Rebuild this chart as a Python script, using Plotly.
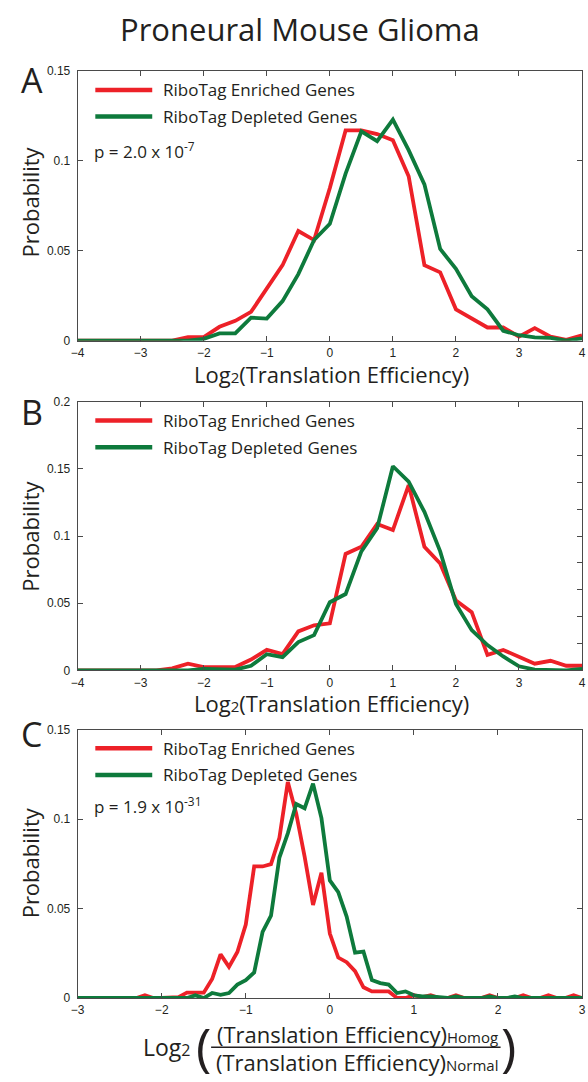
import plotly.graph_objects as go

# ---------------- data ----------------
xA = [-4.0, -3.75, -3.5, -3.25, -3.0, -2.75, -2.5, -2.25, -2.0, -1.75, -1.5, -1.25, -1.0, -0.75,
      -0.5, -0.25, 0.0, 0.25, 0.5, 0.75, 1.0, 1.25, 1.5, 1.75, 2.0, 2.25, 2.5, 2.75, 3.0, 3.25,
      3.5, 3.75, 4.0]
A_enriched = [0, 0, 0, 0, 0, 0, 0, 0.002, 0.002, 0.0077, 0.011, 0.016, 0.029, 0.042, 0.061, 0.056,
              0.085, 0.117, 0.117, 0.115, 0.1116, 0.0915, 0.042, 0.038, 0.0174, 0.0123, 0.0073,
              0.0073, 0.0022, 0.007, 0.0022, 0.0004, 0.003]
A_depleted = [0, 0, 0, 0, 0, 0, 0, 0, 0.001, 0.004, 0.004, 0.0128, 0.0123, 0.022, 0.037, 0.056,
              0.065, 0.093, 0.1165, 0.111, 0.123, 0.106, 0.087, 0.051, 0.040, 0.0247, 0.0174,
              0.0055, 0.003, 0.0018, 0.0015, 0.0, 0.0013]

xB = xA
B_enriched = [0, 0, 0, 0, 0, 0, 0.0015, 0.005, 0.0024, 0.0024, 0.0024, 0.008, 0.0153, 0.012, 0.029,
              0.0335, 0.035, 0.0867, 0.092, 0.109, 0.1045, 0.138, 0.092, 0.0796, 0.052, 0.0433,
              0.0115, 0.0152, 0.0103, 0.0049, 0.0071, 0.0034, 0.0034]
B_depleted = [0, 0, 0, 0, 0, 0, 0, 0, 0.001, 0.001, 0.0005, 0.0034, 0.012, 0.0098, 0.021, 0.0262,
              0.0507, 0.0568, 0.0886, 0.1058, 0.152, 0.1405, 0.118, 0.0886, 0.0494, 0.0299, 0.0188,
              0.0103, 0.003, 0.0005, 0.0, 0.0, 0.001]

xC = [-3.0, -2.9, -2.8, -2.7, -2.6, -2.5, -2.4, -2.3, -2.2, -2.1, -2.0, -1.9, -1.8, -1.7, -1.6,
      -1.5, -1.4, -1.3, -1.2, -1.1, -1.0, -0.9, -0.8, -0.7, -0.6, -0.5, -0.4, -0.3, -0.2, -0.1,
      0.0, 0.1, 0.2, 0.3, 0.4, 0.5, 0.6, 0.7, 0.8, 0.9, 1.0, 1.1, 1.2, 1.3, 1.4, 1.5, 1.6, 1.7,
      1.8, 1.9, 2.0, 2.1, 2.2, 2.3, 2.4, 2.5, 2.6, 2.7, 2.8, 2.9, 3.0]
C_enriched = [0, 0, 0, 0, 0, 0, 0, 0, 0.0015, 0, 0, 0, 0.0005, 0.003, 0.003, 0.003, 0.0106, 0.0244,
              0.0174, 0.0257, 0.041, 0.0735, 0.0735, 0.0748, 0.0895, 0.1207, 0.103, 0.079, 0.052,
              0.070, 0.036, 0.0226, 0.020, 0.015, 0.006, 0.0037, 0.0037, 0.0037, 0, 0, 0.0015,
              0.0005, 0.0015, 0, 0, 0.0015, 0, 0, 0, 0.0015, 0, 0, 0, 0.0015, 0, 0, 0.0015, 0, 0,
              0.0015, 0]
C_depleted = [0, 0, 0, 0, 0, 0, 0, 0, 0, 0, 0, 0.0005, 0, 0, 0.0015, 0, 0.0028, 0.0018, 0.0028,
              0.0075, 0.010, 0.0143, 0.0369, 0.046, 0.0785, 0.092, 0.1084, 0.106, 0.1198, 0.1005,
              0.0657, 0.0592, 0.0455, 0.0253, 0.0259, 0.010, 0.0083, 0.0075, 0.0028, 0.0037, 0.0015,
              0.0009, 0.0009, 0.0005, 0, 0.0009, 0, 0, 0, 0.0009, 0, 0, 0.0009, 0, 0, 0, 0.0005, 0,
              0, 0, 0]

series_names = ["RiboTag Enriched Genes", "RiboTag Depleted Genes"]
p_texts = ["p = 2.0 x 10<sup>-7</sup>", None, "p = 1.9 x 10<sup>-31</sup>"]

xticksAB = [-4, -3, -2, -1, 0, 1, 2, 3, 4]
xticksC = [-3, -2, -1, 0, 1, 2, 3]
yticksA = [0, 0.05, 0.1, 0.15]
yticksB = [0, 0.05, 0.1, 0.15, 0.2]
yticksC = [0, 0.05, 0.1, 0.15]

# ---------------- style ----------------
W, H = 588, 1082
RED = "#ED2128"
GREEN = "#0E7A3C"
AX = "#4a4a4a"
TXT = "#231F20"
SANS = "Open Sans, Noto Sans, sans-serif"
TICKF = dict(family="Liberation Sans, Arial, sans-serif", size=12, color=TXT)

def px_x(v):
    return v / W

def px_y(v):
    return 1 - v / H

x_dom = [px_x(72), px_x(586)]
panels = [
    dict(top=65, bot=338, xr=[-4, 4], yr=[0, 0.15], xt=xticksAB, yt=yticksA,
         xs=xA, e=A_enriched, d=A_depleted, label="A", label_y=74, ytoff=-4, ptop=145),
    dict(top=400, bot=672, xr=[-4, 4], yr=[0, 0.2], xt=xticksAB, yt=yticksB,
         xs=xB, e=B_enriched, d=B_depleted, label="B", label_y=410, ytoff=0, ptop=None),
    dict(top=732, bot=1004, xr=[-3, 3], yr=[0, 0.15], xt=xticksC, yt=yticksC,
         xs=xC, e=C_enriched, d=C_depleted, label="C", label_y=737, ytoff=-1, ptop=809),
]

fig = go.Figure()
layout = dict(width=W, height=H, margin=dict(l=0, r=0, t=0, b=0),
              paper_bgcolor="white", plot_bgcolor="white", showlegend=False)
annotations = []
shapes = []

for i, p in enumerate(panels):
    n = "" if i == 0 else str(i + 1)
    xa, ya = "x" + n, "y" + n
    for vals, col, name in [(p["e"], RED, series_names[0]), (p["d"], GREEN, series_names[1])]:
        fig.add_trace(go.Scatter(x=p["xs"], y=vals, mode="lines", name=name,
                                 line=dict(color=col, width=3.8), xaxis=xa, yaxis=ya,
                                 showlegend=False))
    mirror_y = "ticks" if i != 1 else True
    layout["xaxis" + n] = dict(domain=x_dom, anchor=ya, range=p["xr"], tickvals=p["xt"],
                               ticks="inside", ticklen=5, tickcolor=AX, showline=True,
                               linecolor=AX, linewidth=1, mirror="ticks", showgrid=False,
                               zeroline=False, tickfont=TICKF, ticklabeloverflow="allow",
                               ticklabelstandoff=1)
    layout["yaxis" + n] = dict(domain=[px_y(p["bot"]), px_y(p["top"])], anchor=xa,
                               range=p["yr"], tickvals=p["yt"], ticks="inside", ticklen=5,
                               tickcolor=AX, showline=True, linecolor=AX, linewidth=1,
                               mirror=mirror_y, showgrid=False, zeroline=False, tickfont=TICKF,
                               ticklabelstandoff=4)

    # panel letter
    annotations.append(dict(text=p["label"], x=px_x(25), y=px_y(p["label_y"]), xref="paper",
                            yref="paper", showarrow=False, xanchor="center", yanchor="middle",
                            font=dict(family=SANS, size=34, color=TXT)))
    # y title
    annotations.append(dict(text="Probability", x=px_x(23),
                            y=px_y((p["top"] + p["bot"]) / 2 + p["ytoff"]),
                            xref="paper", yref="paper", showarrow=False, textangle=-90,
                            xanchor="center", yanchor="middle",
                            font=dict(family=SANS, size=22, color=TXT)))
    # legend
    for k, (col, name) in enumerate([(RED, series_names[0]), (GREEN, series_names[1])]):
        ly = p["top"] + 19 + 27 * k
        shapes.append(dict(type="line", xref="paper", yref="paper", x0=px_x(90), x1=px_x(148),
                           y0=px_y(ly), y1=px_y(ly), line=dict(color=col, width=4.5)))
        annotations.append(dict(text=name, x=px_x(157), y=px_y(ly), xref="paper", yref="paper",
                                showarrow=False, xanchor="left", yanchor="middle",
                                font=dict(family=SANS, size=17, color=TXT)))
    if p_texts[i]:
        annotations.append(dict(text=p_texts[i], x=px_x(87), y=px_y(p["ptop"]), xref="paper",
                                yref="paper", showarrow=False, xanchor="left", yanchor="middle",
                                font=dict(family=SANS, size=17, color=TXT)))

# extra right-hand tick set on panel B (0.02 spacing)
layout["yaxis4"] = dict(overlaying="y2", anchor="x2", side="right", range=[0, 0.2], dtick=0.02,
                        ticks="inside", ticklen=5, tickcolor=AX, showticklabels=False,
                        showline=False, showgrid=False, zeroline=False)
fig.add_trace(go.Scatter(x=[None], y=[None], xaxis="x2", yaxis="y4", showlegend=False,
                         hoverinfo="skip"))

# main title
annotations.append(dict(text="Proneural Mouse Glioma", x=px_x(299), y=px_y(22), xref="paper",
                        yref="paper", showarrow=False, xanchor="center", yanchor="middle",
                        font=dict(family=SANS, size=31, color=TXT)))

# x titles for A and B
for yy in [372, 705]:
    annotations.append(dict(text="Log<span style='font-size:15px'>2</span>(Translation Efficiency)",
                            x=px_x(331), y=px_y(yy), xref="paper", yref="paper", showarrow=False,
                            xanchor="center", yanchor="middle",
                            font=dict(family=SANS, size=22, color=TXT)))

# x title for C (fraction)
annotations.append(dict(text="Log<span style='font-size:16px'>2</span>", x=px_x(190), y=px_y(1054),
                        xref="paper", yref="paper", showarrow=False, xanchor="right",
                        yanchor="middle", font=dict(family=SANS, size=23, color=TXT)))
annotations.append(dict(text="(", x=px_x(200), y=px_y(1052), xref="paper", yref="paper",
                        showarrow=False, xanchor="center", yanchor="middle",
                        font=dict(family=SANS, size=52, color=TXT)))
annotations.append(dict(text=")", x=px_x(511), y=px_y(1052), xref="paper", yref="paper",
                        showarrow=False, xanchor="center", yanchor="middle",
                        font=dict(family=SANS, size=52, color=TXT)))
annotations.append(dict(text="(Translation Efficiency)<span style='font-size:15px'>Homog</span>",
                        x=px_x(357), y=px_y(1040), xref="paper", yref="paper", showarrow=False,
                        xanchor="center", yanchor="middle",
                        font=dict(family=SANS, size=22, color=TXT)))
annotations.append(dict(text="(Translation Efficiency)<span style='font-size:15px'>Normal</span>",
                        x=px_x(357), y=px_y(1069), xref="paper", yref="paper", showarrow=False,
                        xanchor="center", yanchor="middle",
                        font=dict(family=SANS, size=22, color=TXT)))
shapes.append(dict(type="line", xref="paper", yref="paper", x0=px_x(208), x1=px_x(503),
                   y0=px_y(1054), y1=px_y(1054), line=dict(color=TXT, width=1.5)))

layout["annotations"] = annotations
layout["shapes"] = shapes
fig.update_layout(**layout)
fig.write_html("out.html")
